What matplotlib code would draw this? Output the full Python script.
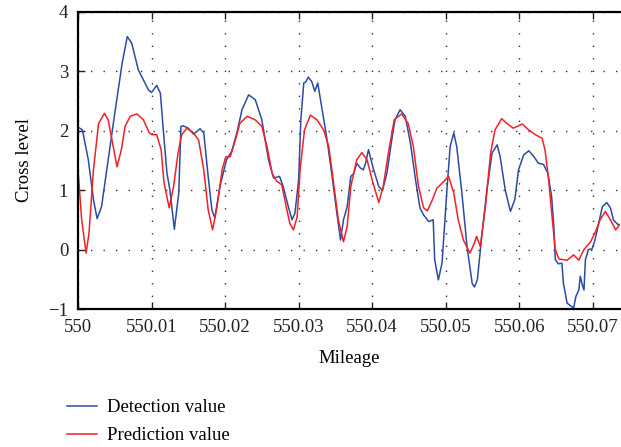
import matplotlib
matplotlib.use('Agg')
import matplotlib.pyplot as plt

# mileage (km) and measured cross level
det_x = [
    550.0000, 550.0006, 550.0014, 550.0021, 550.0026, 550.0032,
    550.0041, 550.0050, 550.0060, 550.0067, 550.0073, 550.0082,
    550.0089, 550.0096, 550.0100, 550.0107, 550.0112, 550.0116,
    550.0121, 550.0125, 550.0131, 550.0137, 550.0140, 550.0143,
    550.0150, 550.0157, 550.0166, 550.0171, 550.0177, 550.0182,
    550.0186, 550.0193, 550.0202, 550.0209, 550.0216, 550.0223,
    550.0232, 550.0241, 550.0250, 550.0259, 550.0266, 550.0274,
    550.0279, 550.0286, 550.0291, 550.0295, 550.0300, 550.0303,
    550.0307, 550.0310, 550.0313, 550.0318, 550.0322, 550.0326,
    550.0332, 550.0338, 550.0345, 550.0352, 550.0357, 550.0361,
    550.0366, 550.0371, 550.0375, 550.0379, 550.0384, 550.0388,
    550.0391, 550.0395, 550.0402, 550.0409, 550.0414, 550.0420,
    550.0426, 550.0431, 550.0438, 550.0445, 550.0452, 550.0459,
    550.0465, 550.0470, 550.0477, 550.0483, 550.0485, 550.0490,
    550.0495, 550.0502, 550.0506, 550.0511, 550.0515, 550.0522,
    550.0529, 550.0536, 550.0539, 550.0543, 550.0549, 550.0556,
    550.0563, 550.0570, 550.0574, 550.0581, 550.0588, 550.0594,
    550.0599, 550.0606, 550.0613, 550.0620, 550.0626, 550.0633,
    550.0639, 550.0644, 550.0647, 550.0649, 550.0653, 550.0658,
    550.0660, 550.0665, 550.0669, 550.0674, 550.0677, 550.0681,
    550.0683, 550.0685, 550.0688, 550.0690, 550.0694, 550.0699,
    550.0703, 550.0708, 550.0713, 550.0719, 550.0724, 550.0728,
    550.0734, 550.0737,
]
det_y = [
    2.06, 2.01, 1.51, 0.84, 0.52, 0.72,
    1.51, 2.29, 3.13, 3.58, 3.47, 3.02,
    2.85, 2.68, 2.64, 2.76, 2.63, 2.01,
    1.28, 1.00, 0.34, 0.95, 2.07, 2.08,
    2.04, 1.94, 2.03, 1.96, 1.23, 0.67,
    0.53, 1.06, 1.51, 1.65, 1.96, 2.35,
    2.60, 2.52, 2.18, 1.51, 1.20, 1.23,
    1.06, 0.72, 0.50, 0.61, 1.17, 2.18,
    2.80, 2.82, 2.90, 2.82, 2.66, 2.80,
    2.35, 1.90, 1.28, 0.61, 0.16, 0.50,
    0.72, 1.23, 1.28, 1.45, 1.37, 1.34,
    1.45, 1.68, 1.34, 1.06, 0.99, 1.28,
    1.79, 2.18, 2.35, 2.24, 1.79, 1.17,
    0.70, 0.58, 0.47, 0.50, -0.17, -0.51,
    -0.23, 1.06, 1.73, 1.96, 1.73, 0.95,
    0.05, -0.57, -0.63, -0.51, 0.22, 1.00,
    1.62, 1.76, 1.56, 1.00, 0.64, 0.84,
    1.34, 1.59, 1.66, 1.56, 1.45, 1.43,
    1.28, 0.89, 0.39, -0.17, -0.24, -0.23,
    -0.56, -0.90, -0.94, -0.98, -0.79, -0.68,
    -0.45, -0.56, -0.68, -0.17, 0.00, 0.01,
    0.16, 0.44, 0.72, 0.79, 0.70, 0.50,
    0.42, 0.42,
]

# mileage (km) and predicted cross level
pred_x = [
    550.0000, 550.0005, 550.0011, 550.0015, 550.0021, 550.0028,
    550.0036, 550.0041, 550.0047, 550.0053, 550.0059, 550.0064,
    550.0071, 550.0080, 550.0089, 550.0097, 550.0101, 550.0107,
    550.0113, 550.0117, 550.0124, 550.0130, 550.0136, 550.0141,
    550.0148, 550.0157, 550.0164, 550.0171, 550.0177, 550.0183,
    550.0189, 550.0196, 550.0201, 550.0207, 550.0214, 550.0220,
    550.0230, 550.0241, 550.0250, 550.0257, 550.0264, 550.0270,
    550.0277, 550.0284, 550.0288, 550.0293, 550.0298, 550.0302,
    550.0308, 550.0316, 550.0325, 550.0334, 550.0341, 550.0347,
    550.0354, 550.0361, 550.0366, 550.0371, 550.0379, 550.0386,
    550.0393, 550.0400, 550.0409, 550.0415, 550.0422, 550.0430,
    550.0440, 550.0449, 550.0456, 550.0463, 550.0470, 550.0475,
    550.0481, 550.0488, 550.0497, 550.0504, 550.0511, 550.0517,
    550.0524, 550.0533, 550.0539, 550.0542, 550.0547, 550.0554,
    550.0561, 550.0567, 550.0576, 550.0583, 550.0592, 550.0604,
    550.0613, 550.0622, 550.0631, 550.0635, 550.0640, 550.0645,
    550.0649, 550.0654, 550.0665, 550.0674, 550.0681, 550.0688,
    550.0697, 550.0703, 550.0710, 550.0717, 550.0724, 550.0731,
    550.0737,
]
pred_y = [
    1.34, 0.50, -0.06, 0.28, 1.34, 2.12,
    2.29, 2.18, 1.79, 1.39, 1.68, 2.07,
    2.24, 2.28, 2.18, 1.96, 1.93, 1.93,
    1.68, 1.12, 0.70, 1.06, 1.62, 1.93,
    2.04, 1.96, 1.84, 1.34, 0.67, 0.33,
    0.72, 1.34, 1.56, 1.56, 1.84, 2.12,
    2.24, 2.18, 2.07, 1.73, 1.28, 1.15,
    1.09, 0.67, 0.44, 0.33, 0.55, 1.34,
    2.01, 2.26, 2.18, 2.01, 1.73, 1.17,
    0.50, 0.13, 0.39, 1.06, 1.51, 1.63,
    1.51, 1.17, 0.79, 1.06, 1.62, 2.18,
    2.28, 2.12, 1.73, 1.06, 0.70, 0.65,
    0.81, 1.03, 1.14, 1.23, 0.95, 0.50,
    0.16, -0.06, 0.11, 0.22, 0.05, 0.72,
    1.62, 2.01, 2.20, 2.12, 2.04, 2.11,
    2.01, 1.93, 1.87, 1.68, 1.17, 0.50,
    0.00, -0.16, -0.18, -0.09, -0.18, 0.00,
    0.13, 0.28, 0.50, 0.64, 0.50, 0.33,
    0.42,
]

x_ticks = [550, 550.01, 550.02, 550.03, 550.04, 550.05, 550.06, 550.07]
x_labels = ['550', '550.01', '550.02', '550.03', '550.04', '550.05',
            '550.06', '550.07']
y_ticks = [-1, 0, 1, 2, 3, 4]

plt.rcParams['font.family'] = ['Liberation Serif', 'DejaVu Serif']
plt.rcParams['font.size'] = 13.5

fig = plt.figure(figsize=(6.21, 4.47), dpi=100)
ax = fig.add_axes([78 / 621, 1 - 309 / 447, 542 / 621, 297.4 / 447])

ax.plot(det_x, det_y, color='#2b4ca6', lw=1.1, label='Detection value')
ax.plot(pred_x, pred_y, color='#f52025', lw=1.1, label='Prediction value')

ax.set_xlim(550, 550.0737)
ax.set_ylim(-1, 4)
ax.set_xticks(x_ticks)
ax.set_xticklabels(x_labels)
ax.set_yticks(y_ticks)
ax.grid(True, color='#333333', linestyle=(0, (1, 8)), lw=1.0)
ax.tick_params(direction='in', length=5, width=1, top=True, pad=7,
               colors='#222222', labelsize=13.5)
for side in ['left', 'bottom', 'top']:
    ax.spines[side].set_linewidth(1.6)
ax.spines['right'].set_visible(False)

ax.set_xlabel('Mileage', labelpad=10)
ax.set_ylabel('Cross level', labelpad=11)

fig.legend(loc='upper left', bbox_to_anchor=(67 / 621, 1 - 399 / 447),
           frameon=False, handlelength=1.6, handletextpad=0.55,
           labelspacing=0.6, borderpad=0, borderaxespad=0)

fig.savefig('out.png', dpi=100)
